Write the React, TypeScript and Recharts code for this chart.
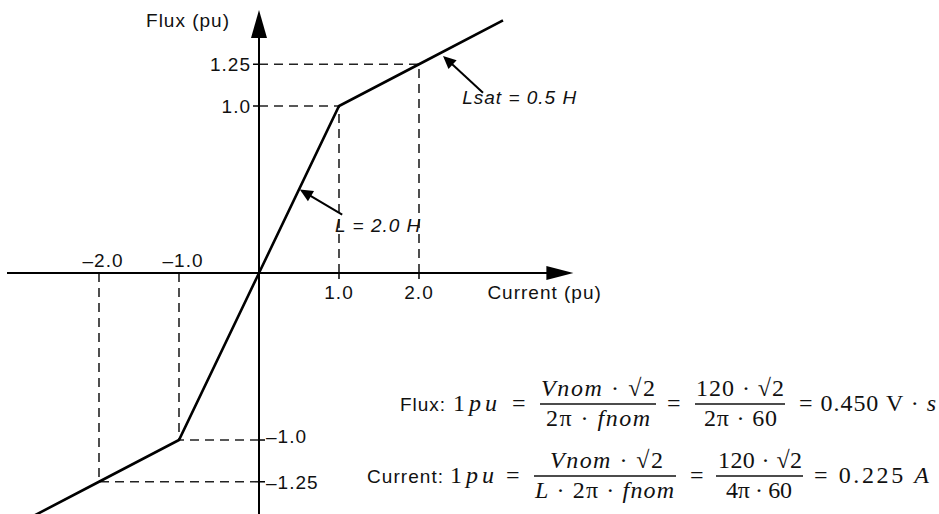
import React from "react";
import { LineChart, Line, XAxis, YAxis, ReferenceLine, ReferenceDot } from "recharts";

// Saturable-core magnetization curve, per unit.
const currentPu = [-3.3, -2, -1, 0, 1, 2, 3.05];
const fluxPu = [-1.575, -1.25, -1, 0, 1, 1.25, 1.5125];

// Knee points that get dashed guides back to both axes.
const kneeCurrent = [1, 2, -1, -2];
const kneeFlux = [1, 1.25, -1, -1.25];

const xTickValues = [-2, -1, 1, 2];
const xTickLabels = ["\u20132.0", "\u20131.0", "1.0", "2.0"];
const yTickValues = [1.25, 1, -1, -1.25];
const yTickLabels = ["1.25", "1.0", "\u20131.0", "\u20131.25"];

// Inductance call-outs: label, arrow tail, arrow tip, text anchor (data units).
const noteText = ["L = 2.0 H", "Lsat = 0.5 H"];
const noteTail = [[1.04, 0.35], [2.8, 1.08]];
const noteTip = [[0.51, 0.5], [2.3, 1.3]];
const noteAt = [[0.95, 0.29], [2.54, 1.054]];

// Axis extents (where the arrows end).
const xAxisFrom = -3.15;
const xAxisTo = 3.93;
const yAxisFrom = -1.5;
const yAxisTo = 1.575;

const data = currentPu.map((c, i) => ({ current: c, flux: fluxPu[i] }));

const W = 939;
const H = 514;
const SANS = "'Liberation Sans', Arial, Helvetica, sans-serif";
const SERIF = "'Liberation Serif', 'Times New Roman', serif";
const INK = "#111";

function arrowShape(head: number, half: number, width: number) {
  return (p: any) => {
    const { x1, y1, x2, y2 } = p;
    const dx = x2 - x1;
    const dy = y2 - y1;
    const len = Math.hypot(dx, dy) || 1;
    const ux = dx / len;
    const uy = dy / len;
    const bx = x2 - ux * head;
    const by = y2 - uy * head;
    const nx = -uy * half;
    const ny = ux * half;
    return (
      <g>
        <line x1={x1} y1={y1} x2={bx + ux * 2} y2={by + uy * 2} stroke="#000" strokeWidth={width} />
        <polygon points={`${x2},${y2} ${bx + nx},${by + ny} ${bx - nx},${by - ny}`} fill="#000" />
      </g>
    );
  };
}

function textShape(
  text: string,
  dx: number,
  dy: number,
  anchor: "start" | "middle" | "end",
  tick?: [number, number, number, number],
  italic?: boolean
) {
  return (p: any) => (
    <g>
      {tick && (
        <line
          x1={p.cx + tick[0]}
          y1={p.cy + tick[1]}
          x2={p.cx + tick[2]}
          y2={p.cy + tick[3]}
          stroke="#000"
          strokeWidth={1.5}
        />
      )}
      <text
        x={p.cx + dx}
        y={p.cy + dy}
        textAnchor={anchor}
        fontFamily={SANS}
        fontSize={19}
        letterSpacing={1}
        fontStyle={italic ? "italic" : "normal"}
        fill={INK}
      >
        {text}
      </text>
    </g>
  );
}

type Run = [string, boolean];

function MathText({ x, y, len, runs }: { x: number; y: number; len?: number; runs: Run[] }) {
  return (
    <text x={x} y={y} textLength={len} fontFamily={SERIF} fontSize={24} fill={INK}>
      {runs.map(([t, it], i) => (
        <tspan key={i} fontStyle={it ? "italic" : "normal"}>
          {t}
        </tspan>
      ))}
    </text>
  );
}

function Frac({
  x1,
  x2,
  axis,
  num,
  den,
}: {
  x1: number;
  x2: number;
  axis: number;
  num: { x: number; len: number; runs: Run[] };
  den: { x: number; len: number; runs: Run[] };
}) {
  return (
    <g>
      <MathText x={num.x} y={axis - 8} len={num.len} runs={num.runs} />
      <line x1={x1} x2={x2} y1={axis} y2={axis} stroke={INK} strokeWidth={1.3} />
      <MathText x={den.x} y={axis + 22} len={den.len} runs={den.runs} />
    </g>
  );
}

function Equations() {
  const a1 = 404;
  const a2 = 476;
  return (
    <svg width={W} height={H} style={{ position: "absolute", left: 0, top: 0, pointerEvents: "none" }}>
      {/* Flux base */}
      <text x={400} y={a1 + 7} textLength={45} fontFamily={SANS} fontSize={19} fill={INK}>
        Flux:
      </text>
      <MathText x={453} y={a1 + 7} len={44} runs={[["1", false], ["pu", true]]} />
      <MathText x={512} y={a1 + 7} runs={[["=", false]]} />
      <Frac
        x1={540}
        x2={656}
        axis={a1}
        num={{ x: 541, len: 114, runs: [["Vnom", true], [" \u00b7 \u221a2", false]] }}
        den={{ x: 546, len: 104, runs: [["2\u03c0 \u00b7 ", false], ["fnom", true]] }}
      />
      <MathText x={667} y={a1 + 7} runs={[["=", false]]} />
      <Frac
        x1={695}
        x2={785}
        axis={a1}
        num={{ x: 696, len: 88, runs: [["120 \u00b7 \u221a2", false]] }}
        den={{ x: 704, len: 73, runs: [["2\u03c0 \u00b7 60", false]] }}
      />
      <MathText x={799} y={a1 + 7} len={137} runs={[["= 0.450 V \u00b7 ", false], ["s", true]]} />

      {/* Current base */}
      <text x={367} y={a2 + 7} textLength={76} fontFamily={SANS} fontSize={19} fill={INK}>
        Current:
      </text>
      <MathText x={450} y={a2 + 7} len={44} runs={[["1", false], ["pu", true]]} />
      <MathText x={506} y={a2 + 7} runs={[["=", false]]} />
      <Frac
        x1={534}
        x2={676}
        axis={a2}
        num={{ x: 550, len: 113, runs: [["Vnom", true], [" \u00b7 \u221a2", false]] }}
        den={{ x: 535, len: 139, runs: [["L", true], [" \u00b7 2\u03c0 \u00b7 ", false], ["fnom", true]] }}
      />
      <MathText x={690} y={a2 + 7} runs={[["=", false]]} />
      <Frac
        x1={716}
        x2={803}
        axis={a2}
        num={{ x: 718, len: 84, runs: [["120 \u00b7 \u221a2", false]] }}
        den={{ x: 726, len: 66, runs: [["4\u03c0 \u00b7 60", false]] }}
      />
      <MathText x={814} y={a2 + 7} len={115} runs={[["= 0.225 ", false], ["A", true]]} />
    </svg>
  );
}

export default function App() {
  return (
    <div style={{ position: "absolute", left: 0, top: 0, width: W, height: H, background: "#fff" }}>
      <LineChart width={W} height={H} data={data} margin={{ top: 0, right: 0, bottom: 0, left: 0 }}>
        <XAxis type="number" dataKey="current" hide domain={[-3.2375, 8.5]} allowDataOverflow />
        <YAxis type="number" hide domain={[-1.443, 1.6347]} allowDataOverflow />

        {/* dashed guides from the knees back to the axes */}
        {kneeCurrent.map((c, i) => (
          <ReferenceLine
            key={`v${i}`}
            segment={[
              { x: c, y: 0 },
              { x: c, y: kneeFlux[i] },
            ]}
            stroke="#222"
            strokeWidth={1.6}
            strokeDasharray="9 6"
            ifOverflow="visible"
          />
        ))}
        {kneeCurrent.map((c, i) => (
          <ReferenceLine
            key={`h${i}`}
            segment={[
              { x: 0, y: kneeFlux[i] },
              { x: c, y: kneeFlux[i] },
            ]}
            stroke="#222"
            strokeWidth={1.6}
            strokeDasharray="9 6"
            ifOverflow="visible"
          />
        ))}

        {/* axes through the origin */}
        <ReferenceLine
          segment={[
            { x: xAxisFrom, y: 0 },
            { x: xAxisTo, y: 0 },
          ]}
          shape={arrowShape(27, 7, 2)}
          ifOverflow="visible"
        />
        <ReferenceLine
          segment={[
            { x: 0, y: yAxisFrom },
            { x: 0, y: yAxisTo },
          ]}
          shape={arrowShape(28, 8, 2)}
          ifOverflow="visible"
        />

        <Line
          dataKey="flux"
          type="linear"
          stroke="#000"
          strokeWidth={2.6}
          dot={false}
          isAnimationActive={false}
        />

        {/* call-out arrows */}
        {noteText.map((t, i) => (
          <ReferenceLine
            key={`na${i}`}
            segment={[
              { x: noteTail[i][0], y: noteTail[i][1] },
              { x: noteTip[i][0], y: noteTip[i][1] },
            ]}
            shape={arrowShape(13, 6, 2)}
            ifOverflow="visible"
          />
        ))}
        {noteText.map((t, i) => (
          <ReferenceDot
            key={`nt${i}`}
            x={noteAt[i][0]}
            y={noteAt[i][1]}
            ifOverflow="visible"
            shape={textShape(t, 0, 7, "start", undefined, true)}
          />
        ))}

        {/* tick labels */}
        {xTickValues.map((v, i) => (
          <ReferenceDot
            key={`xt${i}`}
            x={v}
            y={0}
            ifOverflow="visible"
            shape={
              v > 0
                ? textShape(xTickLabels[i], 0, 26, "middle", [0, 0, 0, 6])
                : textShape(xTickLabels[i], 4, -6, "middle")
            }
          />
        ))}
        {yTickValues.map((v, i) => (
          <ReferenceDot
            key={`yt${i}`}
            x={0}
            y={v}
            ifOverflow="visible"
            shape={
              v > 0
                ? textShape(yTickLabels[i], -8, 7, "end", [-6, 0, 0, 0])
                : textShape(yTickLabels[i], 7, v === -1 ? 3 : 7, "start", [0, 0, 6, 0])
            }
          />
        ))}

        {/* axis titles */}
        <ReferenceDot x={0} y={yAxisTo} ifOverflow="visible" shape={textShape("Flux (pu)", -29, 17, "end")} />
        <ReferenceDot x={xAxisTo} y={0} ifOverflow="visible" shape={textShape("Current (pu)", -86, 26, "start")} />
      </LineChart>
      <Equations />
    </div>
  );
}
